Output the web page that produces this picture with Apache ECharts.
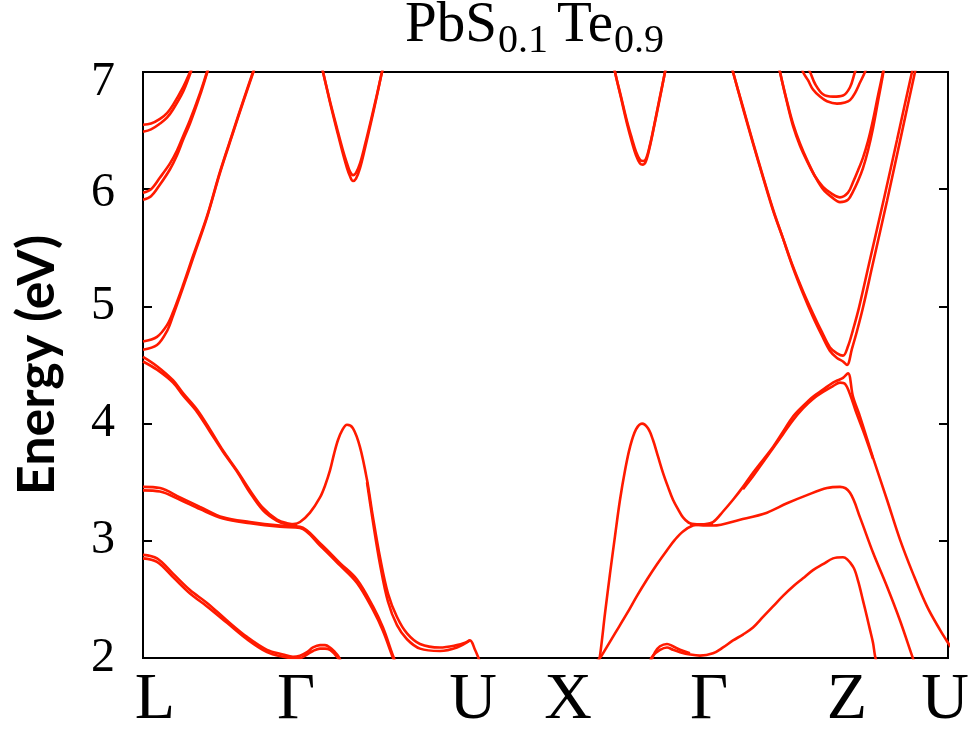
<!DOCTYPE html>
<html>
<head>
<meta charset="utf-8">
<script src="https://cdn.jsdelivr.net/npm/echarts/dist/echarts.min.js"></script>
<style>
html,body{margin:0;padding:0;background:#fff;}
#chart{width:977px;height:738px;}
</style>
</head>
<body>
<div id="chart"></div>
<script>
// ---- axis data ----
const kLabelPos = [12, 153, 330, 425, 566, 704, 802];
const kLabels = ['L', 'Γ', 'U', 'X', 'Γ', 'Z', 'U'];
const kMin = 0, kMax = 805;
const eMin = 2, eMax = 7, eStep = 1;

// ---- bands: [k, E(eV)] ----
// L -> Γ -> U segment
const cbL1a = [[0,4.70],[14,4.74],[24,4.84],[30,4.95],[40,5.18],[50,5.43],[64,5.77],[77,6.15],[90,6.49],[100,6.75],[110,7.0],[115,7.12]];
const cbL1b = [[0,4.63],[14,4.67],[24,4.79],[30,4.92],[40,5.16],[50,5.41],[64,5.76],[77,6.14],[90,6.48],[100,6.74],[110,6.99],[115,7.12]];
const cbL2a = [[0,5.97],[8,6.00],[17,6.10],[27,6.22],[34,6.33],[40,6.45],[47,6.59],[57,6.82],[64,7.0],[68,7.1]];
const cbL2b = [[0,5.91],[8,5.94],[17,6.04],[27,6.17],[34,6.29],[40,6.42],[47,6.56],[57,6.80],[64,6.99],[68,7.1]];
const cbL3a = [[0,6.55],[8,6.56],[17,6.60],[24,6.65],[30,6.72],[40,6.87],[47,7.0],[51,7.08]];
const cbL3b = [[0,6.49],[8,6.51],[17,6.56],[24,6.61],[30,6.68],[40,6.83],[47,6.98],[51,7.08]];
const cbG1a = [[177,7.1],[180,7.0],[187,6.74],[194,6.50],[200,6.30],[204,6.18],[207,6.11],[210,6.07],[213,6.09],[217,6.18],[222,6.35],[228,6.57],[234,6.80],[239,7.0],[242,7.1]];
const cbG1b = [[177,7.1],[180,7.0],[187,6.75],[194,6.52],[200,6.33],[204,6.22],[207,6.15],[210,6.12],[213,6.14],[217,6.22],[222,6.38],[228,6.59],[234,6.81],[239,7.0],[242,7.1]];
const vbL1a = [[0,4.57],[14,4.49],[30,4.37],[40,4.26],[54,4.12],[67,3.95],[80,3.77],[94,3.60],[107,3.43],[120,3.28],[134,3.18],[144,3.15],[154,3.14]];
const vbL1b = [[0,4.53],[14,4.46],[30,4.35],[40,4.24],[54,4.10],[67,3.93],[80,3.76],[94,3.59],[107,3.41],[120,3.26],[134,3.17],[144,3.14],[154,3.13]];
const vbPeakLa = [[150,3.14],[157,3.16],[167,3.24],[177,3.37],[182,3.47],[187,3.60],[191,3.74],[195,3.86],[199,3.94],[204,3.99],[210,3.96],[217,3.80],[224,3.52],[230,3.20],[237,2.86],[245,2.55],[254,2.35],[264,2.21],[277,2.12],[297,2.09],[314,2.11],[322,2.13],[327,2.15],[332,2.07],[335,2.01],[337,1.96]];
const vbPeakLb = [[224,3.50],[230,3.16],[237,2.80],[245,2.48],[254,2.28],[264,2.16],[277,2.08],[297,2.06],[314,2.09],[327,2.15]];
const vbL2a = [[0,3.46],[17,3.45],[37,3.37],[57,3.29],[80,3.20],[107,3.16],[137,3.13],[157,3.12],[177,2.98],[197,2.81],[214,2.67],[230,2.44],[240,2.26],[250,2.02],[253,1.96]];
const vbL2b = [[0,3.43],[17,3.42],[37,3.35],[57,3.27],[80,3.19],[107,3.15],[137,3.12],[157,3.11],[177,2.96],[197,2.79],[214,2.64],[230,2.41],[240,2.23],[250,2.00],[253,1.94]];
const vbL3a = [[0,2.88],[14,2.85],[30,2.72],[47,2.58],[64,2.47],[84,2.32],[104,2.18],[124,2.07],[140,2.03],[150,2.01],[157,2.02],[164,2.05],[170,2.09],[177,2.11],[182,2.11],[187,2.09],[192,2.05],[195,2.02],[198,1.97]];
const vbL3b = [[0,2.85],[14,2.82],[30,2.69],[47,2.55],[64,2.44],[84,2.30],[104,2.16],[124,2.05],[140,2.01],[150,2.00],[157,2.00],[164,2.03],[170,2.06],[177,2.08],[182,2.08],[187,2.07],[192,2.03],[195,2.00],[198,1.96]];
// X -> Γ -> Z -> U segment
const cbG2a = [[470,7.1],[472,7.0],[478,6.78],[484,6.56],[489,6.40],[493,6.29],[497,6.22],[500,6.21],[503,6.24],[507,6.37],[511,6.53],[516,6.74],[522,7.0],[524,7.1]];
const cbG2b = [[470,7.1],[472,7.0],[478,6.79],[484,6.58],[489,6.43],[493,6.32],[497,6.25],[500,6.24],[503,6.26],[507,6.38],[511,6.54],[516,6.75],[522,7.0],[524,7.1]];
const cbZ1a = [[587,7.1],[590,7.0],[600,6.69],[610,6.39],[620,6.10],[630,5.82],[640,5.58],[650,5.34],[660,5.13],[670,4.94],[679,4.78],[687,4.65],[694,4.60],[700,4.58],[705,4.66],[710,4.80],[716,4.99],[727,5.40],[741,5.92],[754,6.42],[769,7.0],[772,7.1]];
const cbZ1b = [[587,7.1],[590,7.0],[600,6.70],[610,6.40],[620,6.11],[630,5.83],[640,5.58],[650,5.33],[660,5.11],[670,4.91],[679,4.75],[687,4.62],[694,4.56],[700,4.53],[704,4.50],[709,4.64],[714,4.79],[720,4.99],[730,5.37],[744,5.90],[757,6.41],[772,7.0],[775,7.1]];
const cbZ2a = [[635,7.1],[637,7.0],[644,6.74],[650,6.54],[657,6.37],[664,6.24],[672,6.11],[680,6.02],[689,5.96],[697,5.93],[705,5.97],[710,6.06],[715,6.16],[720,6.27],[725,6.41],[730,6.59],[735,6.80],[740,7.0],[742,7.1]];
const cbZ2b = [[635,7.1],[637,7.0],[644,6.75],[650,6.56],[657,6.39],[664,6.25],[672,6.11],[680,6.00],[689,5.93],[697,5.89],[705,5.91],[710,5.98],[715,6.07],[720,6.18],[725,6.33],[730,6.52],[735,6.75],[740,6.98],[742,7.1]];
const cbZ3a = [[657,7.08],[660,7.0],[665,6.93],[670,6.85],[677,6.79],[684,6.75],[694,6.73],[702,6.74],[707,6.76],[712,6.82],[717,6.91],[722,7.0],[724,7.05]];
const cbZ3b = [[663,7.06],[667,7.0],[672,6.90],[680,6.81],[690,6.79],[700,6.80],[707,6.87],[712,7.0],[715,7.06]];
const vbPeakR = [[455,1.95],[457,2.02],[462,2.38],[467,2.72],[472,3.04],[477,3.35],[482,3.60],[487,3.80],[493,3.95],[499,4.00],[505,3.96],[510,3.86],[515,3.72],[520,3.58],[525,3.46],[530,3.35],[535,3.27],[540,3.20],[547,3.15],[557,3.14],[570,3.14]];
const vbR2a = [[453,1.97],[457,2.00],[460,2.04],[472,2.21],[484,2.38],[494,2.53],[504,2.67],[514,2.80],[524,2.92],[532,3.01],[540,3.08],[550,3.13],[560,3.14],[570,3.16],[580,3.25],[590,3.35],[600,3.46],[610,3.58],[620,3.69],[630,3.80],[640,3.93],[650,4.06],[660,4.15],[670,4.23],[680,4.29],[690,4.35],[695,4.37],[700,4.39],[705,4.43],[710,4.23],[717,4.06],[730,3.71],[744,3.35],[757,3.01],[770,2.72],[784,2.44],[797,2.24],[805,2.13],[809,2.08]];
const vbR2b = [[600,3.44],[610,3.55],[620,3.67],[630,3.79],[640,3.91],[650,4.03],[660,4.13],[670,4.21],[680,4.27],[690,4.32],[697,4.35],[702,4.34],[707,4.25],[713,4.10],[721,3.92],[730,3.70]];
const vbR3 = [[547,3.14],[570,3.13],[597,3.18],[624,3.24],[644,3.32],[664,3.39],[684,3.45],[697,3.46],[707,3.41],[717,3.20],[730,2.90],[744,2.61],[757,2.32],[769,2.02],[771,1.97]];
const vbR4a = [[506,1.96],[510,2.02],[517,2.07],[524,2.09],[530,2.07],[537,2.05],[547,2.03],[557,2.02],[570,2.04],[580,2.09],[590,2.15],[600,2.20],[610,2.26],[620,2.35],[630,2.44],[640,2.53],[650,2.61],[660,2.68],[670,2.75],[680,2.80],[690,2.85],[700,2.86],[710,2.78],[715,2.66],[720,2.49],[724,2.35],[727,2.24],[730,2.13],[732,2.02],[734,1.95]];
const vbR4b = [[508,1.97],[512,2.05],[517,2.10],[524,2.12],[530,2.10],[537,2.07],[547,2.04]];

const bandList = [cbL1a, cbL1b, cbL2a, cbL2b, cbL3a, cbL3b, cbG1a, cbG1b,
  vbL1a, vbL1b, vbPeakLa, vbPeakLb, vbL2a, vbL2b, vbL3a, vbL3b,
  cbG2a, cbG2b, cbZ1a, cbZ1b, cbZ2a, cbZ2b, cbZ3a, cbZ3b,
  vbPeakR, vbR2a, vbR2b, vbR3, vbR4a, vbR4b];

const RED = '#ff1a00';
const chart = echarts.init(document.getElementById('chart'), null, {renderer: 'canvas'});

const series = bandList.map(d => ({
  type: 'line',
  data: d,
  showSymbol: false,
  smooth: 0.35,
  clip: true,
  silent: true,
  animation: false,
  lineStyle: {color: RED, width: 2.6}
}));

const yTickStyle = {inside: true, length: 9, lineStyle: {color: '#000', width: 2}};
const yLabelFont = {fontFamily: 'Liberation Serif', fontSize: 48, color: '#000'};

chart.setOption({
  animation: false,
  backgroundColor: '#fff',
  title: {
    text: '{a|PbS}{s|0.1}{a|Te}{s|0.9}',
    left: 405,
    top: 4,
    padding: 0,
    textStyle: {
      fontWeight: 'normal',
      rich: {
        a: {fontFamily: 'Liberation Serif', fontWeight: 'normal', fontSize: 57, lineHeight: 57, color: '#000', verticalAlign: 'bottom', padding: [0, 0, 6, 0]},
        s: {fontFamily: 'Liberation Serif', fontWeight: 'normal', fontSize: 40, lineHeight: 40, color: '#000', verticalAlign: 'bottom', padding: [0, 9, 0, 1]}
      }
    }
  },
  grid: {
    left: 143, right: 29, top: 72, bottom: 80,
    show: true, borderColor: '#000', borderWidth: 2, backgroundColor: 'transparent',
    containLabel: false
  },
  xAxis: {
    type: 'value', min: kMin, max: kMax,
    axisLine: {show: false},
    axisTick: {show: false},
    splitLine: {show: false},
    axisLabel: {
      customValues: kLabelPos,
      formatter: v => kLabels[kLabelPos.indexOf(v)],
      fontFamily: 'Liberation Serif', fontSize: 66, color: '#000', margin: 10
    }
  },
  yAxis: [{
    type: 'value', min: eMin, max: eMax, interval: eStep,
    name: 'Energy (eV)', nameLocation: 'middle', nameGap: 80,
    nameTextStyle: {fontFamily: 'Lato', fontWeight: 'bold', fontSize: 52, color: '#000'},
    axisLine: {show: false},
    axisTick: yTickStyle,
    splitLine: {show: false},
    axisLabel: {
      margin: 28,
      formatter: v => v === eMax ? '{hi|' + v + '}' : (v === eMax - 1 ? '{mid|' + v + '}' : '{n|' + v + '}'),
      rich: {
        hi: Object.assign({padding: [20, 0, 0, 0]}, yLabelFont),
        mid: Object.assign({padding: [8, 0, 0, 0]}, yLabelFont),
        n: Object.assign({}, yLabelFont)
      }
    }
  }, {
    type: 'value', min: eMin, max: eMax, interval: eStep, position: 'right',
    axisLine: {show: false},
    axisTick: yTickStyle,
    splitLine: {show: false},
    axisLabel: {show: false}
  }],
  series: series
});
</script>
</body>
</html>
